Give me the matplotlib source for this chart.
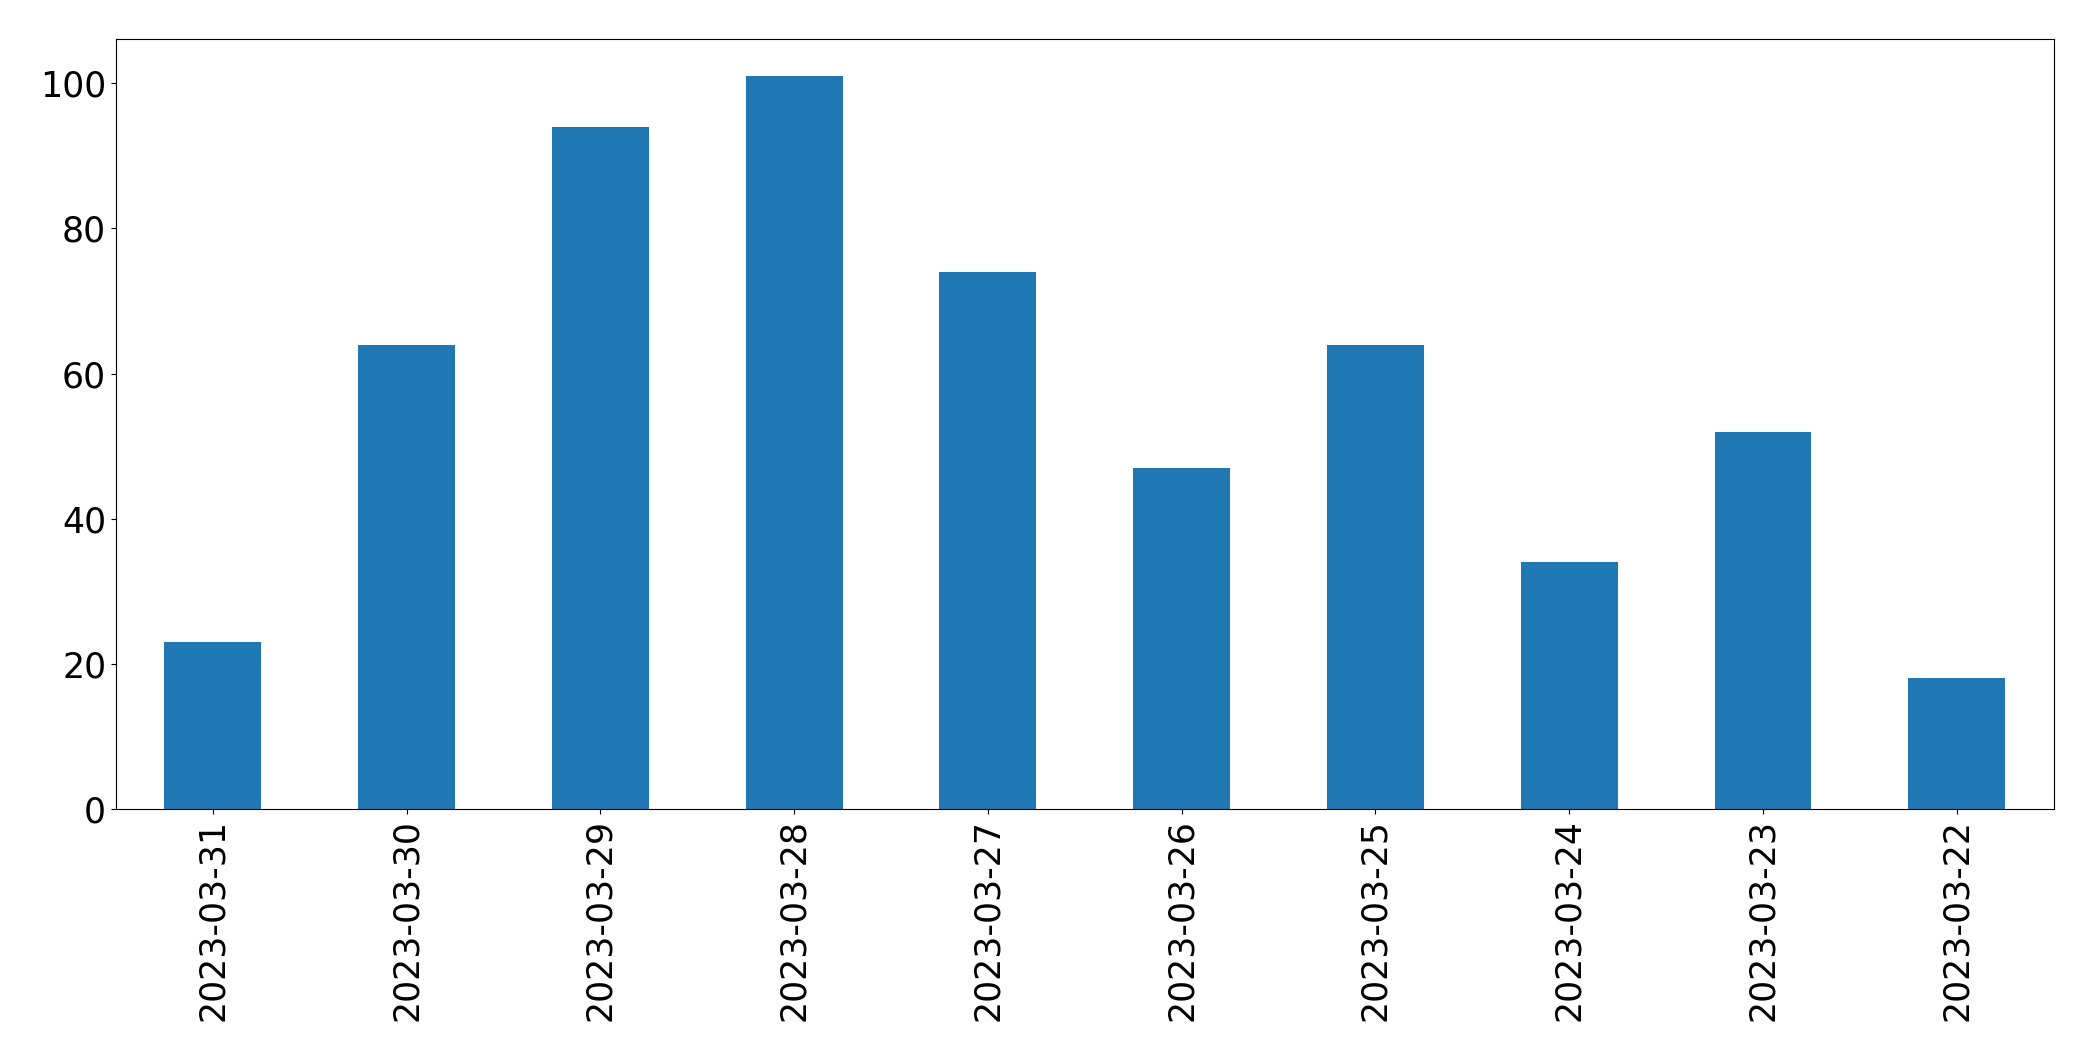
import matplotlib.pyplot as plt

dates = ['2023-03-31', '2023-03-30', '2023-03-29', '2023-03-28', '2023-03-27',
         '2023-03-26', '2023-03-25', '2023-03-24', '2023-03-23', '2023-03-22']
counts = [23, 64, 94, 101, 74, 47, 64, 34, 52, 18]

fig = plt.figure(figsize=(20.93, 10.61), dpi=100)
ax = fig.add_axes([0.0554, 0.2375, 0.9258, 0.7253])

x = range(len(dates))
ax.bar(x, counts, width=0.5, color='#1f77b4')
ax.set_xlim(-0.5, len(dates) - 0.5)
ax.set_xticks(list(x))
ax.set_xticklabels(dates, rotation=90)
ax.tick_params(labelsize=25)

fig.savefig('out.png', dpi=100)
